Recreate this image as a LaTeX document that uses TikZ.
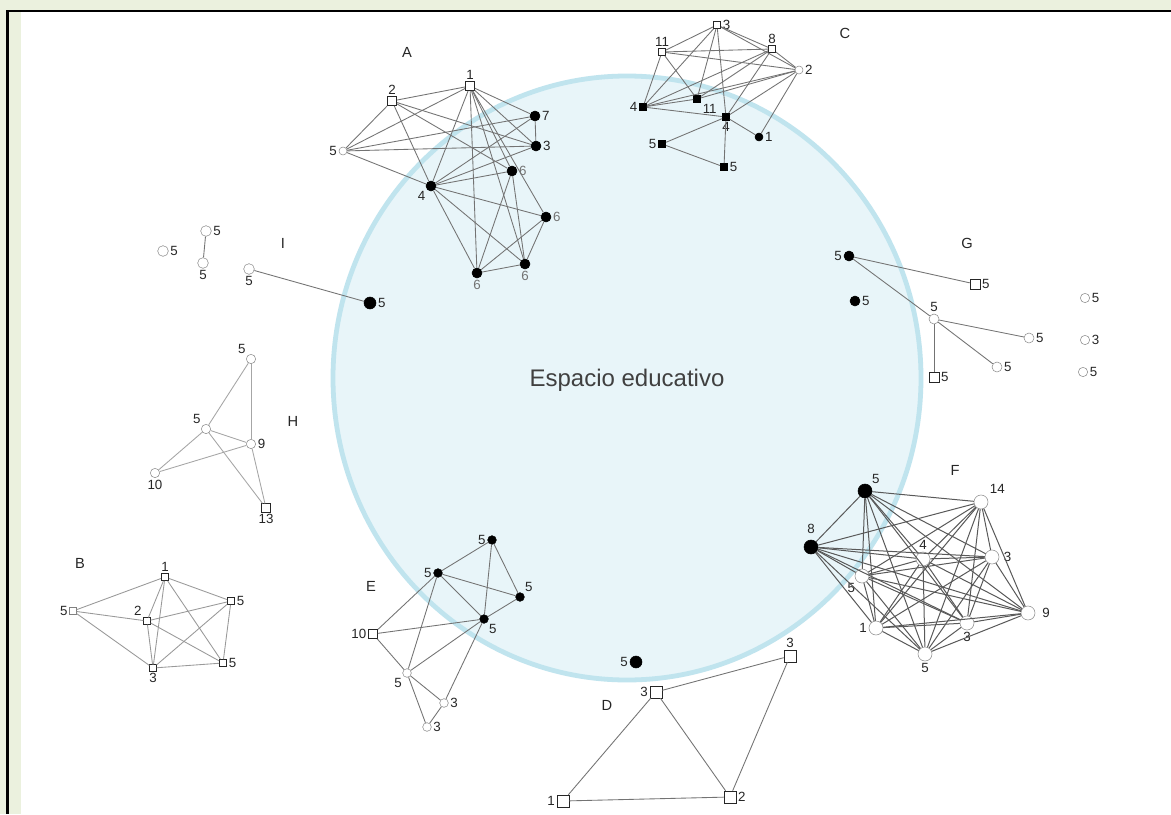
\documentclass[tikz,border=0pt]{standalone}
\usepackage{fontspec}
\setmainfont{Liberation Sans}
\definecolor{framegreen}{RGB}{235,241,222}
\definecolor{spacefill}{RGB}{232,245,249}
\definecolor{spacering}{RGB}{192,228,238}
\begin{document}
\begin{tikzpicture}[x=0.75pt, y=-0.75pt,
  wc/.style={shape=circle, draw=black!45, fill=white, inner sep=0pt, minimum size=#1},
  wc/.default=7pt,
  bc/.style={shape=circle, draw=black, fill=black, inner sep=0pt, minimum size=#1},
  bc/.default=7.5pt,
  sq/.style={shape=rectangle, draw=black!85, fill=white, inner sep=0pt, minimum size=#1},
  sq/.default=6.5pt,
  fsq/.style={shape=rectangle, draw=black, fill=black, inner sep=0pt, minimum size=5.5pt},
  every label/.style={font=\fontsize{10}{11}\selectfont, text=black!85, inner sep=1.2pt},
  grp/.style={font=\fontsize{11}{13}\selectfont, text=black!85},
  ln/.style={-, draw=black!55, line width=0.65pt},
  fln/.style={-, draw=black!65, line width=0.75pt}]
% frame
\fill[framegreen] (0,0) rectangle (1171,814);
\fill[white] (21,11) rectangle (1171,814);
\fill[black] (6,10) rectangle (1171,11.5);
\fill[black] (6,10) rectangle (8.5,814);
% espacio educativo
\draw[spacering, fill=spacefill, line width=3.6pt] (627,378) ellipse [x radius=294, y radius=302];
\node[font=\fontsize{18}{21}\selectfont, text=black!75] (esp) at (627,380) {Espacio educativo};

% group letters
\node[grp] (A) at (407,52) {A};
\node[grp] (B) at (80,563) {B};
\node[grp] (C) at (845,33) {C};
\node[grp] (D) at (607,705) {D};
\node[grp] (E) at (371,586) {E};
\node[grp] (F) at (955,470) {F};
\node[grp] (G) at (967,243) {G};
\node[grp] (H) at (293,421) {H};
\node[grp] (I) at (283,243) {I};

% A
\node[sq=7pt, label={above:1}] (a1) at (470,86) {};
\node[sq=7pt, label={above:2}] (a2) at (392,101) {};
\node[wc=6pt, label={left:5}] (a5) at (343,151) {};
\node[bc, label={right:7}] (a7) at (535,116) {};
\node[bc, label={right:3}] (a3) at (536,146) {};
\node[bc, label={[text=black!55]right:6}] (a6) at (512,171) {};
\node[bc, label={below left:4}] (a4) at (431,186) {};
\node[bc, label={[text=black!55]right:6}] (a8) at (546,217) {};
\node[bc, label={[text=black!55]below:6}] (a9) at (525,264) {};
\node[bc, label={[text=black!55]below:6}] (a10) at (477,273) {};
\path [ln] (a2) edge (a1);
\path [ln] (a5) edge (a2);
\path [ln] (a5) edge (a1);
\path [ln] (a5) edge (a7);
\path [ln] (a5) edge (a3);
\path [ln] (a5) edge (a4);
\path [ln] (a2) edge (a4);
\path [ln] (a2) edge (a3);
\path [ln] (a2) edge (a6);
\path [ln] (a1) edge (a7);
\path [ln] (a1) edge (a3);
\path [ln] (a1) edge (a4);
\path [ln] (a1) edge (a6);
\path [ln] (a1) edge (a8);
\path [ln] (a1) edge (a9);
\path [ln] (a1) edge (a10);
\path [ln] (a7) edge (a3);
\path [ln] (a4) edge (a7);
\path [ln] (a4) edge (a3);
\path [ln] (a4) edge (a6);
\path [ln] (a4) edge (a8);
\path [ln] (a4) edge (a9);
\path [ln] (a4) edge (a10);
\path [ln] (a6) edge (a10);
\path [ln] (a6) edge (a9);
\path [ln] (a8) edge (a10);
\path [ln] (a8) edge (a9);
\path [ln] (a9) edge (a10);

% C
\node[sq=5.5pt, label={right:3}] (c3) at (717,25) {};
\node[sq=5.5pt, label={above:11}] (c11) at (662,52) {};
\node[sq=5.5pt, label={above:8}] (c8) at (772,49) {};
\node[wc=6pt, label={right:2}] (c2) at (799,70) {};
\node[fsq, label={left:4}] (c4) at (643,107) {};
\node[fsq, label={below right:11}] (c12) at (697,99) {};
\node[fsq, label={below:4}] (c14) at (726,117) {};
\node[bc=6pt, label={right:1}] (c1) at (759,137) {};
\node[fsq, label={left:5}] (c5) at (662,144) {};
\node[fsq, label={right:5}] (c15) at (724,167) {};
\path [ln] (c11) edge (c3);
\path [ln] (c11) edge (c8);
\path [ln] (c11) edge (c2);
\path [ln] (c11) edge (c4);
\path [ln] (c11) edge (c12);
\path [ln] (c3) edge (c8);
\path [ln] (c3) edge (c2);
\path [ln] (c3) edge (c4);
\path [ln] (c3) edge (c12);
\path [ln] (c3) edge (c14);
\path [ln] (c8) edge (c2);
\path [ln] (c8) edge (c4);
\path [ln] (c8) edge (c12);
\path [ln] (c8) edge (c14);
\path [ln] (c2) edge (c4);
\path [ln] (c2) edge (c12);
\path [ln] (c2) edge (c14);
\path [ln] (c2) edge (c1);
\path [ln] (c4) edge (c12);
\path [ln] (c4) edge (c14);
\path [ln] (c14) edge (c1);
\path [ln] (c14) edge (c5);
\path [ln] (c14) edge (c15);
\path [ln] (c5) edge (c15);

% I
\node[wc=8pt, label={right:5}] (i1) at (163,251) {};
\node[wc=8pt, label={right:5}] (i2) at (206,231) {};
\node[wc=8pt, label={below:5}] (i3) at (203,263) {};
\node[wc=8pt, label={below:5}] (i4) at (249,269) {};
\node[bc=9pt, label={right:5}] (i5) at (370,303) {};
\path [ln] (i2) edge (i3);
\path [ln] (i4) edge (i5);

% G
\node[bc, label={left:5}] (g1) at (849,256) {};
\node[bc, label={right:5}] (g2) at (855,301) {};
\node[sq=7.5pt, label={right:5}] (g3) at (975,284) {};
\node[wc=7.5pt, label={above:5}] (g4) at (934,319) {};
\node[wc=7.5pt, label={right:5}] (g5) at (1029,338) {};
\node[wc=7.5pt, label={right:5}] (g6) at (997,367) {};
\node[sq=7.5pt, label={right:5}] (g7) at (934,377) {};
\node[wc=7pt, label={right:5}] (g8) at (1085,298) {};
\node[wc=7pt, label={right:3}] (g9) at (1085,340) {};
\node[wc=7pt, label={right:5}] (g10) at (1083,372) {};
\path [ln] (g1) edge (g3);
\path [ln] (g1) edge (g4);
\path [ln] (g4) edge (g5);
\path [ln] (g4) edge (g6);
\path [ln] (g4) edge (g7);

% H
\node[wc, label={above left:5}] (h1) at (251,359) {};
\node[wc, label={above left:5}] (h2) at (206,429) {};
\node[wc, label={right:9}] (h3) at (251,444) {};
\node[wc, label={below:10}] (h4) at (155,473) {};
\node[sq, label={below:13}] (h5) at (266,508) {};
\path [ln, draw=black!35] (h1) edge (h2);
\path [ln, draw=black!35] (h1) edge (h3);
\path [ln, draw=black!35] (h2) edge (h3);
\path [ln, draw=black!35] (h2) edge (h4);
\path [ln, draw=black!35] (h3) edge (h4);
\path [ln, draw=black!35] (h2) edge (h5);
\path [ln, draw=black!35] (h3) edge (h5);

% B
\node[sq=5.5pt, label={above:1}] (b1) at (165,577) {};
\node[sq=5pt, draw=black!50, label={left:5}] (b2) at (73,611) {};
\node[sq=5pt, label={above left:2}] (b3) at (147,621) {};
\node[sq=5.5pt, label={right:5}] (b4) at (231,601) {};
\node[sq=5.5pt, label={right:5}] (b5) at (223,663) {};
\node[sq=5pt, label={below:3}] (b6) at (153,668) {};
\path [ln, draw=black!40] (b1) edge (b2);
\path [ln, draw=black!40] (b1) edge (b3);
\path [ln, draw=black!40] (b1) edge (b6);
\path [ln, draw=black!40] (b1) edge (b4);
\path [ln, draw=black!40] (b1) edge (b5);
\path [ln, draw=black!40] (b2) edge (b3);
\path [ln, draw=black!40] (b2) edge (b6);
\path [ln, draw=black!40] (b3) edge (b4);
\path [ln, draw=black!40] (b3) edge (b6);
\path [ln, draw=black!40] (b3) edge (b5);
\path [ln, draw=black!40] (b6) edge (b4);
\path [ln, draw=black!40] (b6) edge (b5);
\path [ln, draw=black!40] (b4) edge (b5);

% E
\node[bc=6.5pt, label={left:5}] (e1) at (492,540) {};
\node[bc=6.5pt, label={left:5}] (e2) at (438,573) {};
\node[bc=6.5pt, label={above right:5}] (e3) at (520,597) {};
\node[bc=6.5pt, label={below right:5}] (e4) at (484,619) {};
\node[sq=7pt, label={left:10}] (e5) at (373,634) {};
\node[wc=6.5pt, label={below left:5}] (e6) at (407,673) {};
\node[wc=6.5pt, label={right:3}] (e7) at (444,703) {};
\node[wc=6.5pt, label={right:3}] (e8) at (427,727) {};
\path [ln] (e1) edge (e2);
\path [ln] (e1) edge (e3);
\path [ln] (e1) edge (e4);
\path [ln] (e2) edge (e3);
\path [ln] (e2) edge (e4);
\path [ln] (e3) edge (e4);
\path [ln] (e5) edge (e2);
\path [ln] (e5) edge (e4);
\path [ln] (e5) edge (e6);
\path [ln] (e2) edge (e6);
\path [ln] (e4) edge (e6);
\path [ln] (e4) edge (e7);
\path [ln] (e6) edge (e7);
\path [ln] (e6) edge (e8);
\path [ln] (e7) edge (e8);

% D
\node[bc=9pt, label={left:5}] (d5) at (636,662) {};
\node[sq=9pt, label={left:3}] (d3) at (656,692) {};
\node[sq=9pt, label={above:3}] (d4) at (790,656) {};
\node[sq=9pt, label={left:1}] (d1) at (563,801) {};
\node[sq=9pt, label={right:2}] (d2) at (730,797) {};
\path [ln] (d3) edge (d4);
\path [ln] (d3) edge (d1);
\path [ln] (d3) edge (d2);
\path [ln] (d1) edge (d2);
\path [ln] (d2) edge (d4);

% F
\node[bc=10.5pt, label={above right:5}] (f1) at (865,491) {};
\node[bc=10.5pt, label={[label distance=3pt]above:8}] (f2) at (811,547) {};
\node[wc=10.5pt, label={[label distance=2pt]above right:14}] (f3) at (981,502) {};
\node[wc=10.5pt, label={above:4}] (f4) at (923,559) {};
\node[wc=10.5pt, label={[label distance=2pt]right:3}] (f5) at (992,557) {};
\node[wc=10.5pt, label={below left:5}] (f6) at (862,576) {};
\node[wc=10.5pt, label={[label distance=4pt]right:9}] (f7) at (1028,613) {};
\node[wc=10.5pt, label={left:1}] (f8) at (876,628) {};
\node[wc=10.5pt, label={below:3}] (f9) at (967,623) {};
\node[wc=10.5pt, label={below:5}] (f10) at (925,654) {};
\path [fln] (f1) edge (f2);
\path [fln] (f1) edge (f3);
\path [fln] (f1) edge (f4);
\path [fln] (f1) edge (f5);
\path [fln] (f1) edge (f6);
\path [fln] (f1) edge (f7);
\path [fln] (f1) edge (f8);
\path [fln] (f1) edge (f9);
\path [fln] (f1) edge (f10);
\path [fln] (f2) edge (f3);
\path [fln] (f2) edge (f4);
\path [fln] (f2) edge (f5);
\path [fln] (f2) edge (f6);
\path [fln] (f2) edge (f7);
\path [fln] (f2) edge (f8);
\path [fln] (f2) edge (f9);
\path [fln] (f2) edge (f10);
\path [fln] (f3) edge (f4);
\path [fln] (f3) edge (f5);
\path [fln] (f3) edge (f6);
\path [fln] (f3) edge (f7);
\path [fln] (f3) edge (f8);
\path [fln] (f3) edge (f9);
\path [fln] (f3) edge (f10);
\path [fln] (f4) edge (f5);
\path [fln] (f4) edge (f6);
\path [fln] (f4) edge (f7);
\path [fln] (f4) edge (f8);
\path [fln] (f4) edge (f9);
\path [fln] (f4) edge (f10);
\path [fln] (f5) edge (f6);
\path [fln] (f5) edge (f7);
\path [fln] (f5) edge (f8);
\path [fln] (f5) edge (f9);
\path [fln] (f5) edge (f10);
\path [fln] (f6) edge (f7);
\path [fln] (f6) edge (f8);
\path [fln] (f6) edge (f9);
\path [fln] (f6) edge (f10);
\path [fln] (f7) edge (f8);
\path [fln] (f7) edge (f9);
\path [fln] (f7) edge (f10);
\path [fln] (f8) edge (f9);
\path [fln] (f8) edge (f10);
\path [fln] (f9) edge (f10);
\end{tikzpicture}
\end{document}
